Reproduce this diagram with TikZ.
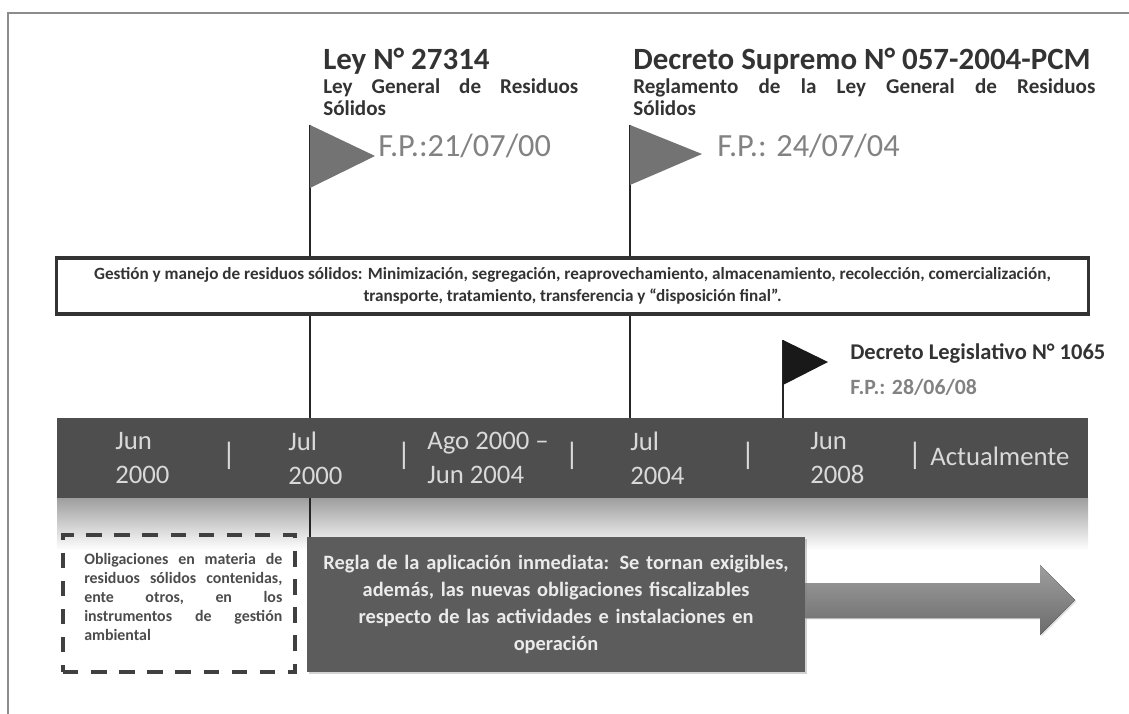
\documentclass[tikz,border=0pt]{standalone}
\usepackage{fontspec}
\setmainfont{Carlito}
\usepackage{xcolor}
\usetikzlibrary{positioning,shadows}
\definecolor{bargray}{HTML}{4E4E4E}
\definecolor{rulegray}{HTML}{5C5C5C}
\definecolor{flaggray}{HTML}{737373}
\definecolor{dategray}{HTML}{828282}
\definecolor{titlegray}{HTML}{333333}
\definecolor{framegray}{HTML}{8C8C8C}
\newcommand{\spreadline}[2]{\hbox to #1{#2}}
\tikzset{
lawtitle/.style={anchor=base west,inner sep=0pt,font=\fontsize{22}{22}\selectfont\bfseries,text=titlegray},
lawsub/.style={anchor=north west,inner sep=0pt,align=left,font=\fontsize{15}{15.6}\selectfont\bfseries,text=titlegray},
fpdate/.style={anchor=west,inner sep=0pt,font=\fontsize{23}{23}\selectfont,text=dategray},
dltitle/.style={anchor=west,inner sep=0pt,font=\fontsize{16}{16}\selectfont\bfseries,text=titlegray},
dldate/.style={anchor=west,inner sep=0pt,font=\fontsize{15.5}{16}\selectfont\bfseries,text=dategray},
flagpole/.style={line width=1.3pt,draw=black!85},
flagtri/.style={fill=flaggray},
flagdark/.style={fill=black!90},
scopebox/.style={rectangle,draw=black!80,line width=2.2pt,fill=white,align=center,inner sep=0pt,minimum width=25.775cm,minimum height=1.4cm,font=\fontsize{12.2}{15.6}\selectfont\bfseries,text=titlegray,drop shadow={opacity=0.3,shadow xshift=1pt,shadow yshift=-1pt}},
periodbar/.style={rectangle,fill=bargray,inner sep=0pt,minimum width=25.775cm,minimum height=2cm},
periodglow/.style={top color=black!38,bottom color=white},
periodlbl/.style={anchor=west,align=left,inner sep=0pt,font=\fontsize{19}{24}\selectfont,text=white!85!black},
periodsep/.style={inner sep=0pt,font=\fontsize{22}{22}\selectfont,text=white!85!black},
rulebox/.style={rectangle,fill=rulegray,inner sep=0pt,align=center,minimum width=12.45cm,minimum height=3.375cm,text width=12.2cm,font=\fontsize{14.5}{19}\selectfont\bfseries,text=white!92!black,drop shadow={opacity=0.35,shadow xshift=1.5pt,shadow yshift=-1.5pt}},
oblbox/.style={rectangle,draw=black!75,line width=2.8pt,dash pattern=on 11pt off 9pt,inner sep=0pt,minimum width=5.8cm,minimum height=3.425cm},
obltext/.style={anchor=north west,inner sep=0pt,align=left,font=\fontsize{11.3}{13.6}\selectfont\bfseries,text=black!70},
rulearrow/.style={top color=black!38,bottom color=black!58,draw=none,drop shadow={opacity=0.25,shadow xshift=1pt,shadow yshift=-1pt}}
}

\begin{document}
\begin{tikzpicture}[x=0.025cm,y=-0.025cm]
\useasboundingbox (0,0) rectangle (1129,714);
\draw[framegray,line width=0.8pt] (8,714) -- (8,13) -- (1129,13);
\fill[periodglow] (57,498) rectangle (1088,550);
\coordinate (poleAtop) at (310,125);
\coordinate (poleAbot) at (310,537);
\coordinate (poleBtop) at (630,125);
\coordinate (poleBbot) at (630,418);
\coordinate (poleCtop) at (783,340);
\coordinate (poleCbot) at (783,418);
\draw[flagpole] (poleAtop) -- (poleAbot);
\draw[flagpole] (poleBtop) -- (poleBbot);
\draw[flagpole] (poleCtop) -- (poleCbot);
\fill[flagtri] (310,125) -- (375,156) -- (310,188) -- cycle;
\fill[flagtri] (630,125) -- (702,154) -- (630,185) -- cycle;
\fill[flagdark] (783,340) -- (828,362) -- (783,385) -- cycle;
\node[lawtitle] (ley) at (323,70) {Ley N° 27314};
\node[lawsub] (leysub) at (323,78) {\spreadline{6.375cm}{Ley\hfill General\hfill de\hfill Residuos}\\Sólidos};
\node[lawtitle] (ds) at (633,70) {Decreto Supremo N° 057-2004-PCM};
\node[lawsub] (dssub) at (633,78) {\spreadline{11.55cm}{Reglamento\hfill de\hfill la\hfill Ley\hfill General\hfill de\hfill Residuos}\\Sólidos};
\node[fpdate] (fpley) at (378,146) {F.P.:21/07/00};
\node[fpdate] (fpds) at (717,146) {F.P.: 24/07/04};
\node[scopebox] (scope) at (572.5,286) {Gestión y manejo de residuos sólidos: Minimización, segregación, reaprovechamiento, almacenamiento, recolección, comercialización,\\transporte, tratamiento, transferencia y “disposición final”.};
\node[dltitle] (dl) at (850,353) {Decreto Legislativo N° 1065};
\node[dldate] (fpdl) at (850,387) {F.P.: 28/06/08};
\node[periodbar] (bar) at (572.5,458) {};
\node[periodlbl] (jun00) at (115,458) {Jun\\2000};
\node[periodsep] (sepa) at (229,456) {|};
\node[periodlbl] (jul00) at (288,458) {Jul\\2000};
\node[periodsep] (sepb) at (404,456) {|};
\node[periodlbl] (ago00) at (427,458) {Ago 2000 –\\Jun 2004};
\node[periodsep] (sepc) at (572,456) {|};
\node[periodlbl] (jul04) at (630,458) {Jul\\2004};
\node[periodsep] (sepd) at (748,456) {|};
\node[periodlbl] (jun08) at (810,458) {Jun\\2008};
\node[periodsep] (sepe) at (915,456) {|};
\node[periodlbl] (actual) at (930,456) {Actualmente};
\node[oblbox] (obl) at (179,603.5) {};
\node[obltext] (obltxt) at (84,553) {\spreadline{4.95cm}{Obligaciones\hfill en\hfill materia\hfill de}\\\spreadline{4.95cm}{residuos\hfill sólidos\hfill contenidas,}\\\spreadline{4.95cm}{ente\hfill otros,\hfill en\hfill los}\\\spreadline{4.95cm}{instrumentos\hfill de\hfill gestión}\\ambiental};
\fill[rulearrow] (805,583) -- (1040,583) -- (1040,565) -- (1075,600) -- (1040,635) -- (1040,618) -- (805,618) -- cycle;
\node[rulebox] (rule) at (556,604.5) {Regla de la aplicación inmediata: Se tornan exigibles,\\además, las nuevas obligaciones fiscalizables\\respecto de las actividades e instalaciones en\\operación};
\end{tikzpicture}
\end{document}
